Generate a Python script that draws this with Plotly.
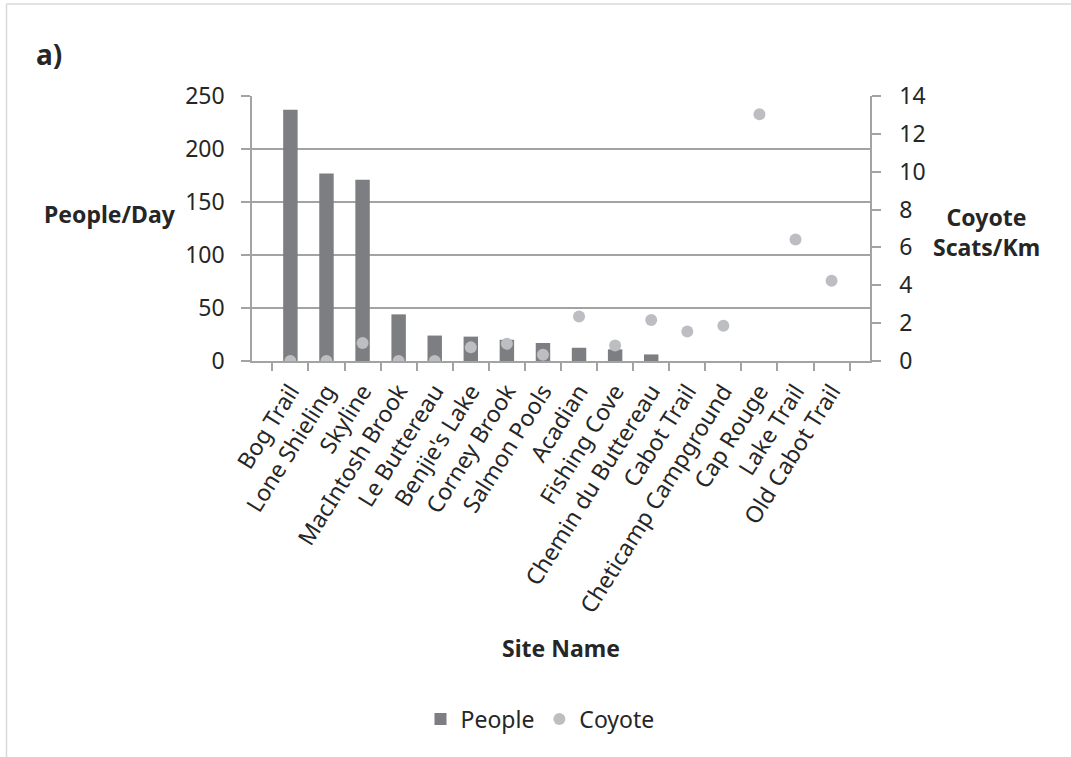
import plotly.graph_objects as go

# Sites ordered by visitor traffic
sites = ["Bog Trail", "Lone Shieling", "Skyline", "MacIntosh Brook", "Le Buttereau",
         "Benjie's Lake", "Corney Brook", "Salmon Pools", "Acadian", "Fishing Cove",
         "Chemin du Buttereau", "Cabot Trail", "Cheticamp Campground", "Cap Rouge",
         "Lake Trail", "Old Cabot Trail"]

# Mean people per day at each site (no counts for the last five)
people_per_day = [237, 177, 171, 44, 24, 23, 20, 17, 12.5, 11, 6.2,
                  None, None, None, None, None]

# Coyote scats per km of trail
coyote_scats_km = [0, 0, 0.95, 0, 0, 0.72, 0.91, 0.33, 2.35, 0.82, 2.16,
                   1.56, 1.86, 13.03, 6.42, 4.24]

left_ticks = [0, 50, 100, 150, 200, 250]
right_ticks = [0, 2, 4, 6, 8, 10, 12, 14]

FONT = "Noto Sans"
TXT = "#262626"
AXIS = "#a3a3a3"
FS = 23

# plot-area edges in pixels, used to place the free-standing labels
W, H = 1071, 757
PL, PR, PT, PB = 252, 870, 96, 361


def px_x(x):
    return (x - PL) / (PR - PL)


def px_y(y):
    return (PB - y) / (PB - PT)


fig = go.Figure()

fig.add_trace(go.Bar(
    x=sites, y=people_per_day, name="People",
    marker=dict(color="#7d7e82", line=dict(width=0)),
    width=0.4, yaxis="y",
))

fig.add_trace(go.Scatter(
    x=sites, y=coyote_scats_km, name="Coyote", mode="markers",
    marker=dict(color="#bdbec2", size=12, symbol="circle"),
    yaxis="y2",
))

fig.update_layout(
    width=W, height=H,
    margin=dict(l=PL, r=W - PR, t=PT, b=H - PB),
    paper_bgcolor="white", plot_bgcolor="white",
    font=dict(family=FONT, size=FS, color=TXT),
    showlegend=True,
    legend=dict(orientation="h", x=px_x(540), xanchor="center",
                y=px_y(719), yanchor="middle", font=dict(size=FS, color=TXT),
                itemwidth=30),
    xaxis=dict(
        type="category", tickangle=-58, tickson="boundaries",
        ticks="outside", ticklen=8, tickcolor=AXIS, tickwidth=1.5,
        showline=True, linecolor=AXIS, linewidth=1.5,
        showgrid=False, tickfont=dict(size=FS, color=TXT),
        ticklabelstandoff=6,
    ),
    yaxis=dict(
        range=[0, 250], tickvals=left_ticks,
        ticks="outside", ticklen=9, tickcolor=AXIS, tickwidth=1.5,
        showline=True, linecolor=AXIS, linewidth=1.5,
        showgrid=True, gridcolor=AXIS, gridwidth=1.5,
        zeroline=False, tickfont=dict(size=FS, color=TXT),
        ticklabelstandoff=12,
    ),
    yaxis2=dict(
        range=[0, 14], tickvals=right_ticks, overlaying="y", side="right",
        ticks="outside", ticklen=9, tickcolor=AXIS, tickwidth=1.5,
        showline=True, linecolor=AXIS, linewidth=1.5,
        showgrid=False, zeroline=False, tickfont=dict(size=FS, color=TXT),
        ticklabelstandoff=14,
    ),
)

# Panel label and axis titles
labels = [
    ("<b>a)</b>", 34, 54, "left", 28),
    ("<b>People/Day</b>", 110, 214, "center", FS),
    ("<b>Coyote<br>Scats/Km</b>", 986, 232, "center", FS),
    ("<b>Site Name</b>", 561, 648, "center", FS),
]
for text, x, y, anchor, size in labels:
    fig.add_annotation(text=text, x=px_x(x), y=px_y(y), xref="paper", yref="paper",
                       xanchor=anchor, yanchor="middle", showarrow=False,
                       font=dict(size=size, color=TXT))

# Frame around the chart area
frame = dict(color="#d9d9d9", width=1.5)
fig.add_shape(type="line", xref="paper", yref="paper",
              x0=px_x(6.5), x1=px_x(6.5), y0=px_y(4), y1=px_y(H), line=frame)
fig.add_shape(type="line", xref="paper", yref="paper",
              x0=px_x(6.5), x1=px_x(W), y0=px_y(4), y1=px_y(4), line=frame)

fig.write_html("out.html")
